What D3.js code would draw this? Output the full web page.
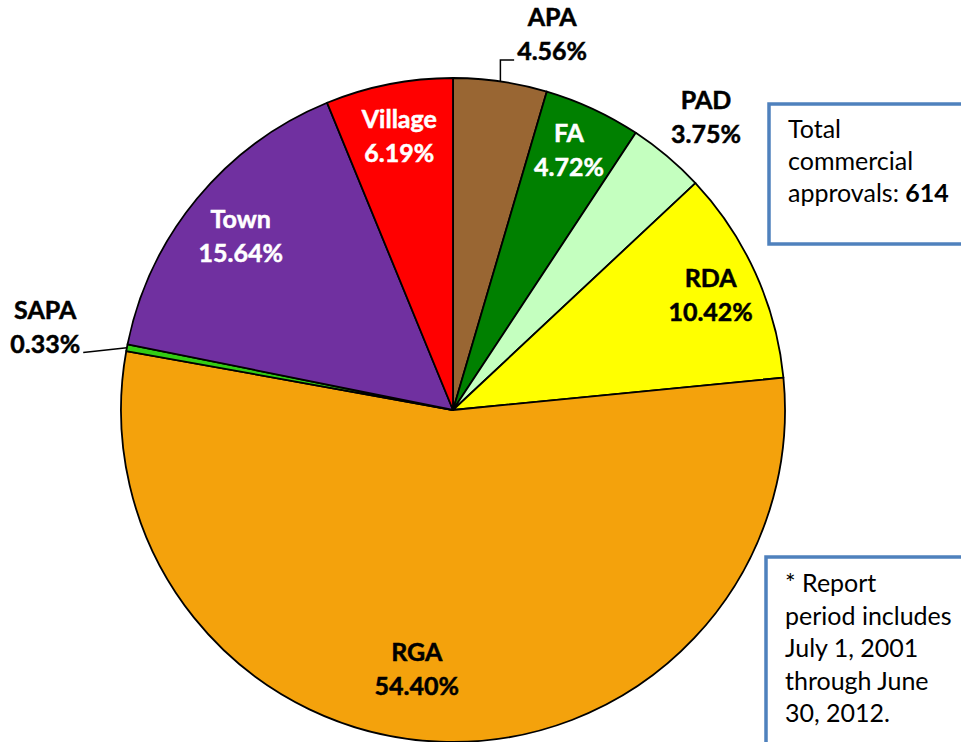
<!DOCTYPE html>
<html>
<head>
<meta charset="utf-8">
<script src="https://cdn.jsdelivr.net/npm/d3@7"></script>
<style>
  html, body { margin: 0; padding: 0; background: #fff; }
  svg { display: block; }
</style>
</head>
<body>
<svg id="chart" width="961" height="742"></svg>
<script>
// ---- data ----
const categories = ["APA", "FA", "PAD", "RDA", "RGA", "SAPA", "Town", "Village"];
const percents   = [4.56, 4.72, 3.75, 10.42, 54.40, 0.33, 15.64, 6.19];
const labelTexts = ["4.56%", "4.72%", "3.75%", "10.42%", "54.40%", "0.33%", "15.64%", "6.19%"];
const totalNote  = ["Total", "commercial", "approvals: "];
const totalValue = "614";
const periodNote = ["* Report", "period includes", "July 1, 2001", "through June", "30, 2012."];

// ---- style ----
const colors = {
  APA: "#996633", FA: "#008000", PAD: "#c4ffbf", RDA: "#ffff00",
  RGA: "#f4a20c", SAPA: "#33cc14", Town: "#7030a0", Village: "#ff0000"
};
const textColor = { FA: "#fff", Town: "#fff", Village: "#fff" };
// label placement: radius factor and angle nudge (degrees), leader side
const labelLayout = {
  APA:     { rf: 1.168, da: 6.6, leader: "left" },
  FA:      { rf: 0.855, da: -0.8 },
  PAD:     { rf: 1.163, da: 0.8 },
  RDA:     { rf: 0.849, da: 0.4 },
  RGA:     { rf: 0.792, da: 5.6 },
  SAPA:    { rf: 1.253, da: 0.6, leader: "right" },
  Town:    { rf: 0.825, da: -0.4 },
  Village: { rf: 0.837, da: 0 }
};

const W = 961, H = 742;
const cx = 453, cy = 410, R = 332;
const font = "Lato, 'Open Sans', sans-serif";

const svg = d3.select("#chart");
const g = svg.append("g").attr("transform", `translate(${cx},${cy})`);

const data = categories.map((c, i) => ({ name: c, value: percents[i], label: labelTexts[i] }));
const pie = d3.pie().sort(null).value(d => d.value);
const arcs = pie(data);
const arc = d3.arc().innerRadius(0).outerRadius(R);

g.selectAll("path.slice").data(arcs).join("path")
  .attr("class", "slice")
  .attr("d", arc)
  .attr("fill", d => colors[d.data.name])
  .attr("stroke", "#000")
  .attr("stroke-width", 1.8)
  .attr("stroke-linejoin", "round");

const lineGap = 34;
const polar = (a, r) => [r * Math.sin(a), -r * Math.cos(a)];

arcs.forEach(d => {
  const lay = labelLayout[d.data.name];
  const mid = (d.startAngle + d.endAngle) / 2;
  const a = mid + lay.da * Math.PI / 180;
  const [lx, ly] = polar(a, R * lay.rf);
  const col = textColor[d.data.name] || "#000";
  const t = g.append("text")
    .attr("x", lx).attr("y", ly - 9)
    .attr("text-anchor", "middle")
    .attr("font-family", font)
    .attr("font-weight", "bold")
    .attr("font-size", 25)
    .attr("fill", col)
    .attr("stroke", col)
    .attr("stroke-width", 0.5);
  t.append("tspan").attr("x", lx).attr("y", ly - 9).text(d.data.name);
  const t2 = t.append("tspan").attr("x", lx).attr("y", ly - 9 + lineGap).text(d.data.label);

  if (lay.leader) {
    const bb = t2.node().getBBox();
    const [ex, ey] = polar(mid, R);
    const by = ly - 9 + lineGap;
    let pts;
    if (lay.leader === "left") {
      pts = [[ex, ey], [ex, by], [bb.x - 3, by]];
    } else {
      pts = [[bb.x + bb.width + 3, by], [ex, ey]];
    }
    g.append("path")
      .attr("d", d3.line()(pts))
      .attr("fill", "none")
      .attr("stroke", "#000")
      .attr("stroke-width", 1.5);
  }
});

// ---- note boxes ----
const boxStroke = "#4f81bd";
svg.append("rect").attr("x", 769).attr("y", 104).attr("width", 220).attr("height", 140)
  .attr("fill", "#fff").attr("stroke", boxStroke).attr("stroke-width", 3.5);
const t1 = svg.append("text").attr("font-family", font).attr("font-size", 25).attr("fill", "#000");
totalNote.forEach((s, i) => {
  t1.append("tspan").attr("x", 788).attr("y", 138 + i * 32).text(s);
  if (i === totalNote.length - 1) {
    t1.append("tspan").attr("font-weight", "bold").text(totalValue);
  }
});

svg.append("rect").attr("x", 766).attr("y", 557).attr("width", 220).attr("height", 220)
  .attr("fill", "#fff").attr("stroke", boxStroke).attr("stroke-width", 3.5);
const t3 = svg.append("text").attr("font-family", font).attr("font-size", 25).attr("fill", "#000");
periodNote.forEach((s, i) => {
  t3.append("tspan").attr("x", 785).attr("y", 592 + i * 32.5).text(s);
});
</script>
</body>
</html>
